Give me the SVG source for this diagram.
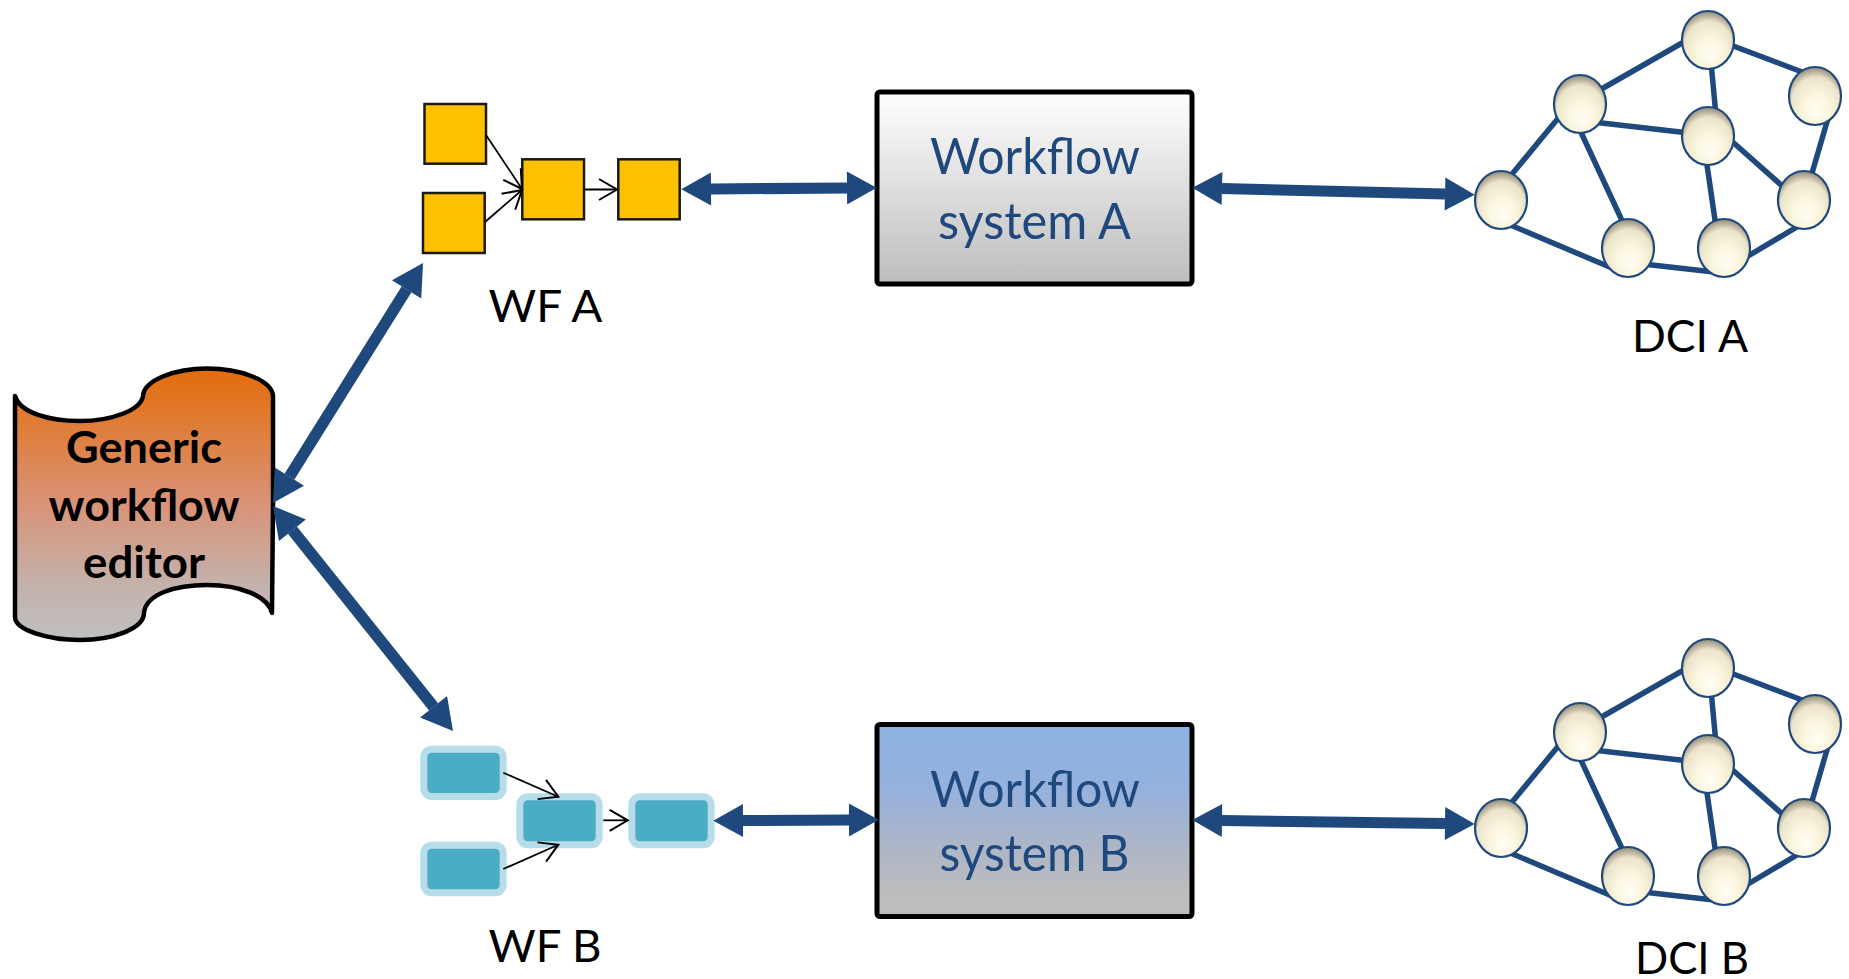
<svg xmlns="http://www.w3.org/2000/svg" xmlns:xlink="http://www.w3.org/1999/xlink" width="1849" height="979" viewBox="0 0 1849 979">
<style>
text{font-family:Lato,"Liberation Sans",sans-serif}
.lab{font-size:45px;fill:#000}
.sys{font-size:50px;fill:#1f497d}
.ed{font-size:43px;font-weight:700;fill:#000}
.y{fill:#ffc000;stroke:#1a1a1a;stroke-width:2.5}
.t{fill:#4bacc6;stroke:#b7dde8;stroke-width:7}
.thin{fill:none;stroke:#000;stroke-width:1.8;marker-end:url(#open)}
.fat{stroke:#1f497d;stroke-width:11;marker-start:url(#hs);marker-end:url(#he)}
.diag{stroke:#1f497d;stroke-width:11.5;marker-start:url(#hs);marker-end:url(#he)}
.net{stroke:#1f497d;stroke-width:5.5;fill:none}
.box{stroke:#000;stroke-width:5}
.ball{fill:url(#ballG);stroke:#1f497d;stroke-width:2.2}
</style>
<defs>
<linearGradient id="gA" x1="0" y1="0" x2="0" y2="1"><stop offset="0" stop-color="#fff"/><stop offset="1" stop-color="#bdbdbd"/></linearGradient>
<linearGradient id="gB" x1="0" y1="0" x2="0" y2="1"><stop offset="0" stop-color="#8db3e2"/><stop offset=".3" stop-color="#93b1de"/><stop offset=".65" stop-color="#aeb6c6"/><stop offset=".9" stop-color="#bdbdbd"/></linearGradient>
<linearGradient id="gE" x1="0" y1="0" x2="0" y2="1"><stop offset="0" stop-color="#e46c0a"/><stop offset=".5" stop-color="#d99377"/><stop offset=".8" stop-color="#c3b2ac"/><stop offset="1" stop-color="#bfbfbf"/></linearGradient>
<radialGradient id="ballG" cx=".5" cy=".6" r=".62" fx=".55" fy=".8"><stop offset="0" stop-color="#fffef5"/><stop offset=".4" stop-color="#fbf6df"/><stop offset=".76" stop-color="#ebe4ca"/><stop offset="1" stop-color="#857d6b"/></radialGradient>
<marker id="he" markerWidth="3" markerHeight="3" refX="0" refY="1.5" orient="auto" markerUnits="strokeWidth" viewBox="0 0 2.7 3"><path d="M0 0L2.7 1.5L0 3z" fill="#1f497d"/></marker>
<marker id="hs" markerWidth="3" markerHeight="3" refX="0" refY="1.5" orient="auto-start-reverse" markerUnits="strokeWidth" viewBox="0 0 2.7 3"><path d="M0 0L2.7 1.5L0 3z" fill="#1f497d"/></marker>
<marker id="open" markerWidth="26" markerHeight="26" refX="20" refY="13" orient="auto" markerUnits="userSpaceOnUse" viewBox="0 0 26 26"><path d="M2 2.5L20 13L2 23.5" fill="none" stroke="#000" stroke-width="2"/></marker>
<ellipse id="ballS" class="ball" rx="26" ry="29"/>
<path id="netP" class="net" d="M1508 179L1560 116M1508 224L1612 268M1598 91L1689 39M1593 122L1689 133M1579 128L1625 227M1711 62L1716 116M1728 44L1810 75M1829 115L1810 180M1727 137L1789 192M1706 158L1716 227M1643 264L1714 272M1743 259L1802 224"/>
</defs>
<rect width="1849" height="979" fill="#fff"/>
<g id="editor">
<path d="M15 396C20 413 50 421 80 421C112 421 141 410 143 396C144 380 175 368.5 207 368.5C240 368.5 272 380 273 396V502L272 613C268 596 240 585 207 585C175 585 147 594 144 612C145 629 112 640 80 640C48 640 15 630 15 617Z" fill="url(#gE)" stroke="#000" stroke-width="4.5" stroke-linejoin="round" stroke-linecap="round"/>
<text class="ed" x="66" y="462.5" textLength="156" lengthAdjust="spacingAndGlyphs">Generic</text>
<text class="ed" x="48.5" y="520.5" textLength="191" lengthAdjust="spacingAndGlyphs">workflow</text>
<text class="ed" x="83" y="578" textLength="122" lengthAdjust="spacingAndGlyphs">editor</text>
</g>
<g id="wfa">
<rect id="wfa1" class="y" x="424.5" y="104" width="61.5" height="59.7"/>
<rect id="wfa2" class="y" x="423" y="193" width="61.7" height="60"/>
<rect id="wfa3" class="y" x="522.3" y="159.3" width="61.7" height="60"/>
<rect id="wfa4" class="y" x="618.3" y="159.3" width="61.4" height="60"/>
<text class="lab" x="488.5" y="321.7" textLength="114" lengthAdjust="spacingAndGlyphs">WF A</text>
</g>
<g id="wfb">
<rect id="wfb1" class="t" x="423.8" y="749.2" width="79.4" height="47.3" rx="8"/>
<rect id="wfb2" class="t" x="519.8" y="796.8" width="79.4" height="48" rx="8"/>
<rect id="wfb3" class="t" x="631.8" y="796.8" width="79.4" height="48" rx="8"/>
<rect id="wfb4" class="t" x="423.8" y="845.2" width="79.4" height="47.6" rx="8"/>
<text class="lab" x="488.5" y="961.7" textLength="113" lengthAdjust="spacingAndGlyphs">WF B</text>
</g>
<g id="systemA">
<rect class="box" x="877" y="92" width="315" height="192" rx="3" fill="url(#gA)"/>
<text class="sys" x="930" y="174.3" textLength="210" lengthAdjust="spacingAndGlyphs">Workflow</text>
<text class="sys" x="938" y="239" textLength="193" lengthAdjust="spacingAndGlyphs">system A</text>
</g>
<g id="systemB">
<rect class="box" x="877" y="724.5" width="315" height="192" rx="3" fill="url(#gB)"/>
<text class="sys" x="930" y="807" textLength="210" lengthAdjust="spacingAndGlyphs">Workflow</text>
<text class="sys" x="939.5" y="871" textLength="190" lengthAdjust="spacingAndGlyphs">system B</text>
</g>
<g id="dciA">
<use xlink:href="#netP" href="#netP"/>
<use id="a1" xlink:href="#ballS" href="#ballS" x="1708" y="40"/>
<use id="a2" xlink:href="#ballS" href="#ballS" x="1815" y="96"/>
<use id="a3" xlink:href="#ballS" href="#ballS" x="1708" y="136"/>
<use id="a4" xlink:href="#ballS" href="#ballS" x="1580" y="104"/>
<use id="a5" xlink:href="#ballS" href="#ballS" x="1501" y="200"/>
<use id="a6" xlink:href="#ballS" href="#ballS" x="1628" y="248"/>
<use id="a7" xlink:href="#ballS" href="#ballS" x="1724" y="248"/>
<use id="a8" xlink:href="#ballS" href="#ballS" x="1804" y="200"/>
<text class="lab" x="1632" y="351.7" textLength="116" lengthAdjust="spacingAndGlyphs">DCI A</text>
</g>
<g id="dciB">
<use xlink:href="#netP" href="#netP" y="628"/>
<use id="b1" xlink:href="#ballS" href="#ballS" x="1708" y="668"/>
<use id="b2" xlink:href="#ballS" href="#ballS" x="1815" y="724"/>
<use id="b3" xlink:href="#ballS" href="#ballS" x="1708" y="764"/>
<use id="b4" xlink:href="#ballS" href="#ballS" x="1580" y="732"/>
<use id="b5" xlink:href="#ballS" href="#ballS" x="1501" y="828"/>
<use id="b6" xlink:href="#ballS" href="#ballS" x="1628" y="876"/>
<use id="b7" xlink:href="#ballS" href="#ballS" x="1724" y="876"/>
<use id="b8" xlink:href="#ballS" href="#ballS" x="1804" y="828"/>
<text class="lab" x="1635" y="974" textLength="114" lengthAdjust="spacingAndGlyphs">DCI B</text>
</g>
<g id="connectors">
<line class="diag" x1="289.4" y1="476.7" x2="406.6" y2="289.3"/>
<line class="diag" x1="292.4" y1="530.2" x2="433.6" y2="706.8"/>
<line class="fat" x1="711" y1="189" x2="847" y2="188"/>
<line class="fat" x1="743" y1="820.5" x2="849" y2="820"/>
<line class="fat" x1="1222" y1="188.5" x2="1445" y2="194"/>
<line class="fat" x1="1222" y1="820.5" x2="1445" y2="823.5"/>
<line class="thin" x1="486" y1="135" x2="522" y2="189"/>
<line class="thin" x1="485" y1="222" x2="522" y2="190"/>
<line class="thin" x1="584" y1="189.5" x2="617" y2="189.5"/>
<line class="thin" x1="503.3" y1="772.7" x2="558.3" y2="796.7"/>
<line class="thin" x1="503.3" y1="869" x2="558.3" y2="844.7"/>
<line class="thin" x1="603.3" y1="820.3" x2="627.7" y2="820.3"/>
</g>
</svg>
